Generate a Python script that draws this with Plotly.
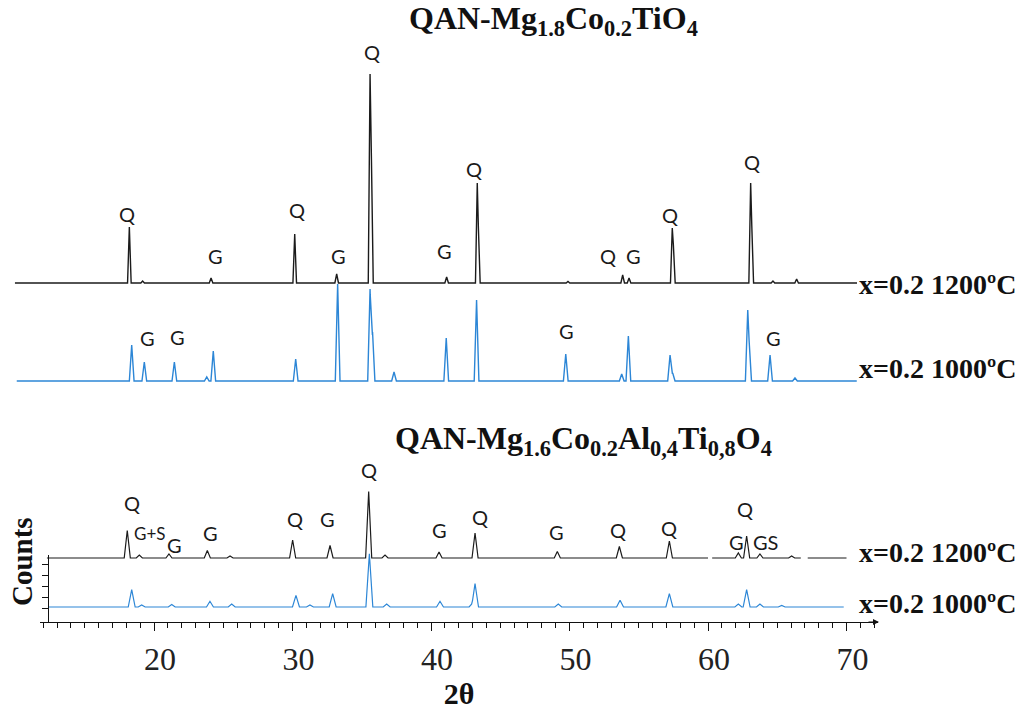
import plotly.graph_objects as go

W, H = 1029, 710

# ---------------- data (2θ in degrees, intensities in arbitrary counts) ----------------
# QAN-Mg1.8Co0.2TiO4, 1200 °C
top1200_pos = [18.22, 19.18, 24.12, 30.16, 33.19, 35.60, 35.70, 41.13, 43.34, 43.42,
               49.89, 53.84, 54.30, 57.42, 57.50, 63.08, 63.16, 64.69, 66.40]
top1200_int = [56, 2, 5, 49, 9, 209, 123, 6, 100, 56,
               1.5, 8, 5, 55, 38, 100, 58, 2, 4]
# QAN-Mg1.8Co0.2TiO4, 1000 °C
top1000_pos = [18.39, 19.30, 21.47, 23.81, 24.28, 30.23, 33.26, 35.60, 35.78, 37.33,
               41.10, 43.29, 49.73, 53.77, 54.25, 57.26, 57.45, 62.87, 62.97, 64.48, 66.28]
top1000_int = [36, 19, 19, 4, 30, 22, 97, 92, 49, 9,
               43, 81, 27, 7, 45, 26, 8, 71, 40, 26, 3]
# QAN-Mg1.6Co0.2Al0.4Ti0.8O4, 1200 °C
bot1200_pos = [18.07, 18.94, 21.08, 23.85, 25.49, 30.01, 32.71, 35.50, 36.68, 40.58,
               43.18, 49.12, 53.60, 57.21, 62.19, 62.79, 63.75, 66.04]
bot1200_int = [27.5, 3, 4, 7.5, 2, 18, 12.5, 66.5, 3, 6,
               25, 6.5, 11.5, 17, 5, 22, 4, 2]
# QAN-Mg1.6Co0.2Al0.4Ti0.8O4, 1000 °C
bot1000_pos = [18.39, 19.11, 21.28, 24.04, 25.61, 30.25, 31.26, 32.90, 35.55, 36.80,
               40.65, 43.00, 43.18, 49.19, 53.65, 57.21, 62.19, 62.79, 63.75, 65.32]
bot1000_int = [17.3, 2, 2.5, 5.7, 3, 11.7, 2, 13.3, 53.3, 3,
               5.7, 4, 23.3, 3, 6.7, 13.3, 3, 17.3, 3, 1.5]

scan_ranges = {"top1200": (9.96, 70.76), "top1000": (10.09, 70.74),
               "bot1200": (12.27, 70.0), "bot1000": (12.35, 69.8)}
bot1200_gaps = [(60.0, 60.3), (66.7, 67.2)]

x_ticks = [20, 30, 40, 50, 60, 70]

# ---------------- layout helpers ----------------
def t_of_px(p):  # 2θ value at a horizontal pixel of the frame
    return 20 + (p - 154) / 13.85


def profile(pos, inten, rng, w, offset, gaps=()):
    """Stick pattern drawn as narrow triangular peaks (upper envelope)."""
    start, end = rng
    xs = {start, end}
    for p in pos:
        xs.update([p - w, p, p + w])
    for g0, g1 in gaps:
        xs.update([g0, g1])
    xs = sorted(x for x in xs if start <= x <= end)
    xs = [x for x in xs if not any(g0 < x < g1 for g0, g1 in gaps)]
    ys = [offset + max([0.0] + [h * (1 - abs(x - p) / w) for p, h in zip(pos, inten)]) for x in xs]
    ox, oy = [], []
    for i, (x, y) in enumerate(zip(xs, ys)):
        ox.append(x)
        oy.append(y)
        if i + 1 < len(xs) and any(x <= g0 and xs[i + 1] >= g1 for g0, g1 in gaps):
            ox.append(None)
            oy.append(None)
    return ox, oy


BLACK = "#1b1b1b"
BLUE = "#2c86d6"

fig = go.Figure()
series = [
    (top1200_pos, top1200_int, "top1200", 0.13, 622 - 283, BLACK, (), 1.4),
    (top1000_pos, top1000_int, "top1000", 0.17, 622 - 381, BLUE, (), 1.4),
    (bot1200_pos, bot1200_int, "bot1200", 0.22, 622 - 558, BLACK, bot1200_gaps, 1.2),
    (bot1000_pos, bot1000_int, "bot1000", 0.25, 622 - 607, BLUE, (), 1.2),
]
for pos, inten, key, w, off, col, gaps, lw in series:
    x, y = profile(pos, inten, scan_ranges[key], w, off, gaps)
    fig.add_trace(go.Scatter(x=x, y=y, mode="lines", line=dict(color=col, width=lw),
                             showlegend=False, hoverinfo="skip", xaxis="x", yaxis="y"))

# dummy trace so the visible frame subplot renders
fig.add_trace(go.Scatter(x=[None], y=[None], xaxis="x2", yaxis="y2", showlegend=False))

SERIF = "Liberation Serif"
fig.update_layout(
    width=W, height=H,
    margin=dict(l=0, r=0, t=0, b=0),
    paper_bgcolor="white", plot_bgcolor="rgba(0,0,0,0)",
    xaxis=dict(domain=[0, 1], range=[t_of_px(0), t_of_px(W)], visible=False),
    yaxis=dict(domain=[0, 1], range=[-88, 622], visible=False),
    xaxis2=dict(domain=[40 / W, 878 / W], anchor="y2",
                range=[t_of_px(40), t_of_px(878)],
                showline=True, linecolor="#111", linewidth=1.2,
                ticks="outside", ticklen=8, tickwidth=1.1, tickcolor="#111",
                tickvals=x_ticks, showgrid=False, zeroline=False,
                minor=dict(dtick=1, ticks="outside", ticklen=5, tickwidth=1, tickcolor="#111", showgrid=False),
                tickfont=dict(family=SERIF, size=32, color="#222"),
                ticklabelshift=6, ticklabelstandoff=0,
                title=dict(text="<b>2θ</b>", font=dict(family=SERIF, size=30, color="#111"), standoff=2)),
    yaxis2=dict(domain=[(H - 622) / H, (H - 555) / H], anchor="free", position=48 / W,
                range=[-0.2, 5.9], showline=True, linecolor="#111", linewidth=1.2,
                ticks="outside", ticklen=6, tickwidth=1.1, tickcolor="#111",
                tickvals=[1, 2, 3, 4, 5], showticklabels=False, showgrid=False, zeroline=False),
)

ann = []
def paper_text(text, px, py, size, family, color="#111", xanchor="center", angle=0):
    ann.append(dict(text=text, x=px / W, y=1 - py / H, xref="paper", yref="paper",
                    xanchor=xanchor, yanchor="middle", showarrow=False, textangle=angle,
                    font=dict(family=family, size=size, color=color)))

# titles
paper_text("<b>QAN-Mg<sub>1.8</sub>Co<sub>0.2</sub>TiO<sub>4</sub></b>", 553, 21, 32, SERIF)
paper_text("<b>QAN-Mg<sub>1.6</sub>Co<sub>0.2</sub>Al<sub>0,4</sub>Ti<sub>0,8</sub>O<sub>4</sub></b>", 583, 441, 32, SERIF)

# y-axis title
paper_text("<b>Counts</b>", 22, 562, 29, SERIF, angle=-90)

# series labels
for txt, py in [("x=0.2 1200ºC", 284), ("x=0.2 1000ºC", 368), ("x=0.2 1200ºC", 552), ("x=0.2 1000ºC", 603)]:
    paper_text("<b>%s</b>" % txt, 857, py, 28, SERIF, xanchor="left")

# phase labels (Q, G, S)
peak_labels = [
    ("Q", 127, 214), ("G", 215, 256), ("Q", 297, 210), ("G", 338, 256), ("Q", 372, 52),
    ("G", 444, 251), ("Q", 474, 169), ("Q", 608, 256), ("G", 633, 256), ("Q", 670, 215),
    ("Q", 752, 162),
    ("G", 147, 338), ("G", 177, 337), ("G", 566, 331), ("G", 773, 338),
    ("Q", 132, 503), ("G+S", 150, 533), ("G", 174, 545), ("G", 210, 533), ("Q", 295, 519),
    ("G", 327, 519), ("Q", 369, 470), ("G", 439, 530), ("Q", 480, 517), ("G", 556, 532),
    ("Q", 618, 530), ("Q", 669, 528), ("Q", 745, 509), ("G", 736, 542), ("GS", 765, 542),
]
for txt, px, py in peak_labels:
    paper_text(txt, px, py, 20 if txt != "G+S" else 17, "Lato", color="#1a1a1a")

# arrow head at end of the 2θ axis
ann.append(dict(x=879 / W, y=(H - 622) / H, xref="paper", yref="paper", text="",
                showarrow=True, ax=-12, ay=0, arrowhead=2, arrowsize=1, arrowwidth=1.2,
                arrowcolor="#111"))

fig.update_layout(annotations=ann)
fig.write_html("out.html")
